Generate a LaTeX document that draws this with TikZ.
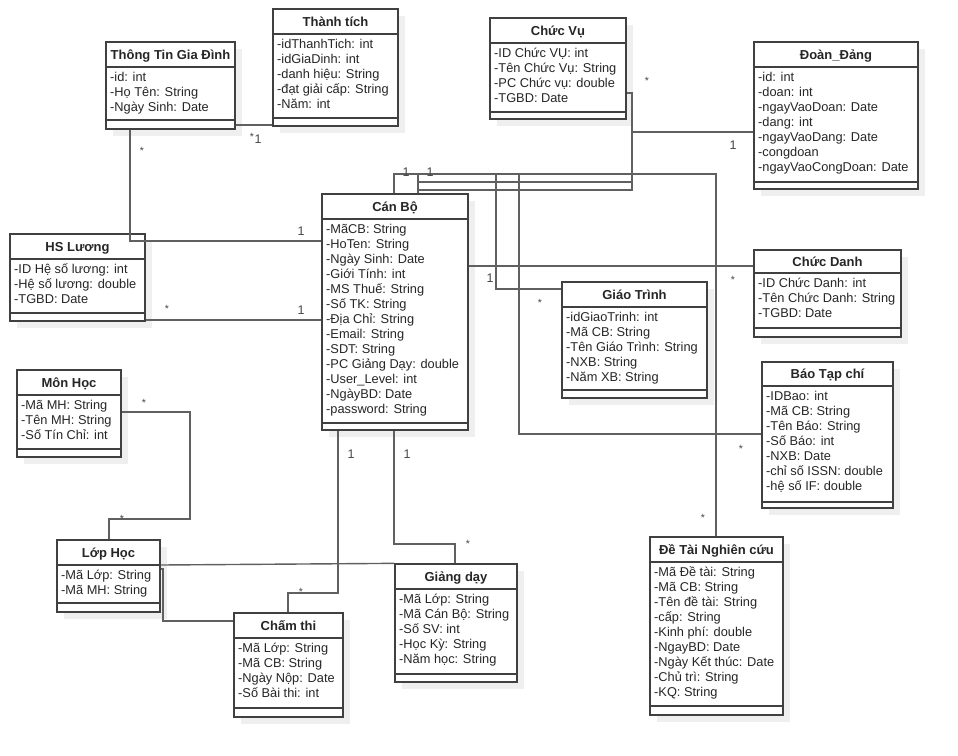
\documentclass[tikz,border=0pt]{standalone}
\usepackage{fontspec}
\setmainfont{Liberation Sans}
\usetikzlibrary{fit,calc}
\definecolor{boxline}{HTML}{404040}
\definecolor{connc}{HTML}{606060}
\definecolor{shadowc}{HTML}{EFEFEF}
\definecolor{txt}{HTML}{262626}
\tikzset{
  umlframe/.style={draw=boxline, line width=1.3pt, inner sep=0pt},
  umlsep/.style={draw=boxline, line width=1.3pt},
  umltitle/.style={anchor=base, inner sep=0pt, text=txt, font=\bfseries\fontsize{13}{15}\selectfont},
  umlattr/.style={anchor=north west, inner sep=0pt, align=left, text=txt, font=\fontsize{12.8}{15}\selectfont},
  conn/.style={draw=connc, line width=1.4pt},
  multone/.style={inner sep=0pt, text=txt!85, font=\fontsize{12.5}{14}\selectfont},
  multstar/.style={inner sep=0pt, text=txt!85, font=\fontsize{10.5}{11}\selectfont},
}
% #1 name, #2 x1, #3 y1, #4 x2, #5 y2, #6 header line, #7 lower line, #8 title, #9 attributes
\newcommand\umlclass[9]{%
  \fill[shadowc] (#2+7,#3+7) rectangle (#4+7,#5+7);
  \fill[white] (#2,#3) rectangle (#4,#5);
  \coordinate (#1-nw) at (#2,#3);
  \coordinate (#1-se) at (#4,#5);
  \node[umlframe, fit=(#1-nw)(#1-se)] (#1) {};
  \draw[umlsep] (#2,#6) -- (#4,#6);
  \draw[umlsep] (#2,#7) -- (#4,#7);
  \node[umltitle] (#1-title) at ({(#2+#4)/2},{(#3+#6)/2+4.6}) {#8};
  \node[umlattr] (#1-attrs) at (#2+4,#6+3.8) {\strut#9};
}
\begin{document}
\begin{tikzpicture}[x=1pt,y=-1pt]
\useasboundingbox (0,0) rectangle (958,755);
\fill[white] (0,0) rectangle (958,755);

\umlclass{tgd}{106}{42}{235}{129}{67}{120}{Thông Tin Gia Đình}{-id: int\\-Họ Tên: String\\-Ngày Sinh: Date}
\umlclass{tt}{273}{9}{398}{126}{34}{118}{Thành tích}{-idThanhTich: int\\-idGiaDinh: int\\-danh hiệu: String\\-đạt giải cấp: String\\-Năm: int}
\umlclass{cv}{490}{18}{626}{119}{43}{112}{Chức Vụ}{-ID Chức VỤ: int\\-Tên Chức Vụ: String\\-PC Chức vụ: double\\-TGBD: Date}
\umlclass{dd}{754}{42}{918}{189}{67}{182}{Đoàn\_Đảng}{-id: int\\-doan: int\\-ngayVaoDoan: Date\\-dang: int\\-ngayVaoDang: Date\\-congdoan\\-ngayVaoCongDoan: Date}
\umlclass{cb}{322}{194}{468}{430}{219}{423}{Cán Bộ}{-MãCB: String\\-HoTen: String\\-Ngày Sinh: Date\\-Giới Tính: int\\-MS Thuế: String\\-Số TK: String\\-Địa Chỉ: String\\-Email: String\\-SDT: String\\-PC Giảng Dạy: double\\-User\_Level: int\\-NgàyBD: Date\\-password: String}
\umlclass{hsl}{10}{234}{145}{321}{259}{313}{HS Lương}{-ID Hệ số lương: int\\-Hệ số lương: double\\-TGBD: Date}
\umlclass{cd}{754}{250}{901}{337}{273}{328}{Chức Danh}{-ID Chức Danh: int\\-Tên Chức Danh: String\\-TGBD: Date}
\umlclass{gt}{562}{282}{707}{398}{307}{390}{Giáo Trình}{-idGiaoTrinh: int\\-Mã CB: String\\-Tên Giáo Trình: String\\-NXB: String\\-Năm XB: String}
\umlclass{btc}{762}{362}{893}{508}{386}{502}{Báo Tạp chí}{-IDBao: int\\-Mã CB: String\\-Tên Báo: String\\-Số Báo: int\\-NXB: Date\\-chỉ số ISSN: double\\-hệ số IF: double}
\umlclass{mh}{17}{370}{121}{457}{395}{449}{Môn Học}{-Mã MH: String\\-Tên MH: String\\-Số Tín Chỉ: int}
\umlclass{lh}{57}{540}{160}{612}{565}{603}{Lớp Học}{-Mã Lớp: String\\-Mã MH: String}
\umlclass{ct}{234}{613}{343}{717}{638}{708}{Chấm thi}{-Mã Lớp: String\\-Mã CB: String\\-Ngày Nộp: Date\\-Số Bài thi: int}
\umlclass{gd}{395}{564}{517}{682}{589}{674}{Giảng dạy}{-Mã Lớp: String\\-Mã Cán Bộ: String\\-Số SV: int\\-Học Kỳ: String\\-Năm học: String}
\umlclass{dt}{650}{537}{783}{715}{562}{706}{Đề Tài Nghiên cứu}{-Mã Đề tài: String\\-Mã CB: String\\-Tên đề tài: String\\-cấp: String\\-Kinh phí: double\\-NgayBD: Date\\-Ngày Kết thúc: Date\\-Chủ trì: String\\-KQ: String}

% connectors
\draw[conn] (tgd.east |- 0,125) -- (tt.west |- 0,125);
\draw[conn] (130,0 |- tgd.south) -- (130,241) -- (cb.west |- 0,241);
\draw[conn] (hsl.east |- 0,320) -- (cb.west |- 0,320);
\draw[conn] (418,0 |- cb.north) -- (418,182) -- (632,182) -- (632,93) -- (cv.east |- 0,93);
\draw[conn] (418,0 |- cb.north) -- (418,190) -- (632,190) -- (632,132) -- (dd.west |- 0,132);
\draw[conn] (394,0 |- cb.north) -- (394,174) -- (496,174) -- (496,289) -- (gt.west |- 0,289);
\draw[conn] (418,0 |- cb.north) -- (418,174) -- (519,174) -- (519,434) -- (btc.west |- 0,434);
\draw[conn] (394,0 |- cb.north) -- (394,174) -- (716,174) -- (716,0 |- dt.north);
\draw[conn] (cb.east |- 0,266) -- (cd.west |- 0,266);
\draw[conn] (mh.east |- 0,412) -- (190,412) -- (190,519) -- (109,519) -- (109,0 |- lh.north);
\draw[conn] (338,0 |- cb.south) -- (338,593) -- (288,593) -- (288,0 |- ct.north);
\draw[conn] (394,0 |- cb.south) -- (394,544) -- (455,544) -- (455,0 |- gd.north);
\draw[conn] (lh.east |- 0,565) -- (gd.north west);
\draw[conn] (lh.east |- 0,569) -- (163,569) -- (163,621) -- (ct.west |- 0,621);

% multiplicities
\node[multstar] (m1) at (252,137) {*};
\node[multone] (m2) at (258,139) {1};
\node[multstar] (m3) at (142,151) {*};
\node[multone] (m4) at (301,231) {1};
\node[multstar] (m5) at (167,309) {*};
\node[multone] (m6) at (301,310) {1};
\node[multone] (m7) at (406,172) {1};
\node[multone] (m8) at (430,172) {1};
\node[multstar] (m9) at (647,81) {*};
\node[multone] (m10) at (733,145) {1};
\node[multone] (m11) at (490,278) {1};
\node[multstar] (m12) at (540,303) {*};
\node[multstar] (m13) at (733,280) {*};
\node[multstar] (m14) at (741,449) {*};
\node[multstar] (m15) at (703,518) {*};
\node[multstar] (m16) at (144,403) {*};
\node[multstar] (m17) at (122,519) {*};
\node[multone] (m18) at (351,454) {1};
\node[multstar] (m19) at (301,592) {*};
\node[multone] (m20) at (407,454) {1};
\node[multstar] (m21) at (468,544) {*};
\end{tikzpicture}
\end{document}
